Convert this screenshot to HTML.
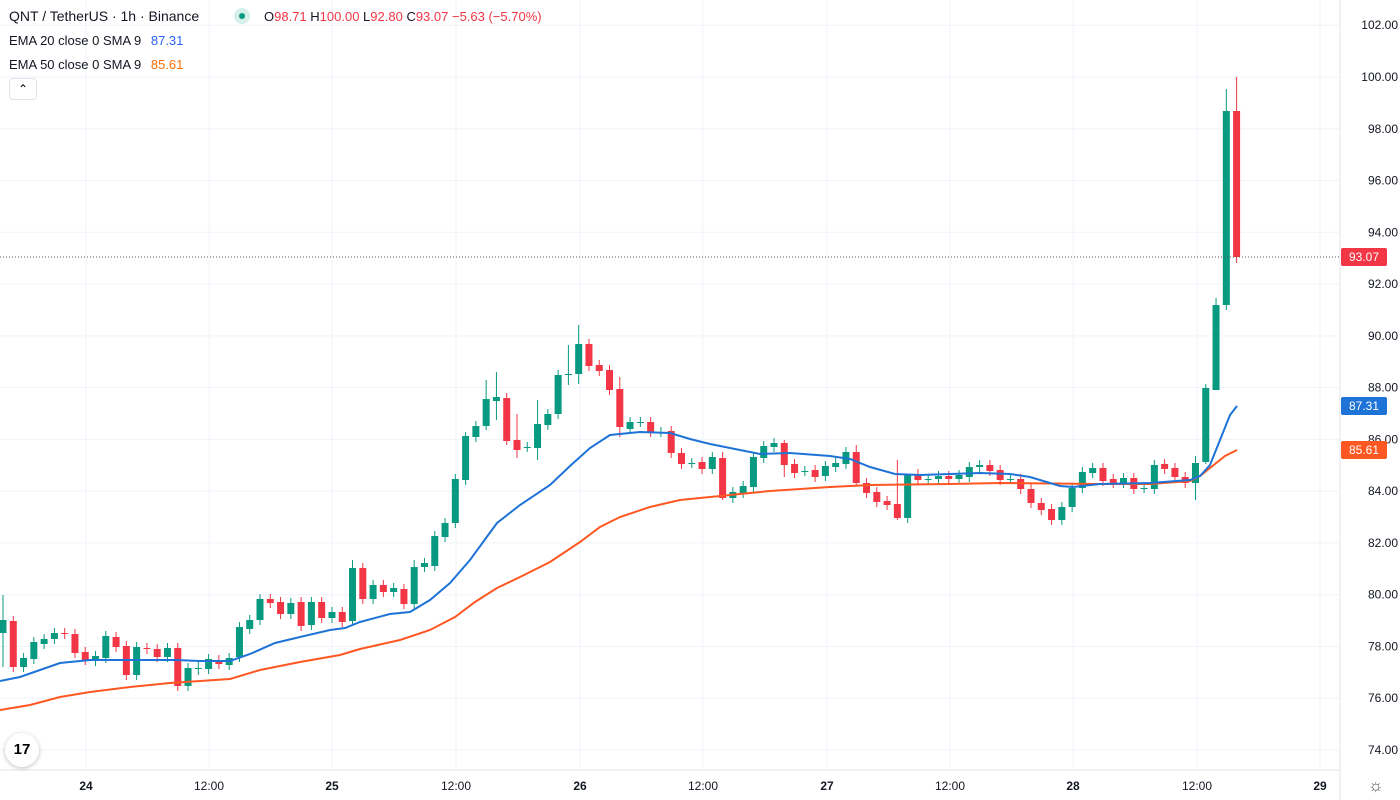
<!DOCTYPE html>
<html><head><meta charset="utf-8"><style>
body{margin:0;background:#fff;font-family:"Liberation Sans",sans-serif;}
#c{position:absolute;left:0;top:0;width:1400px;height:800px;overflow:hidden}
.t{position:absolute;font-size:13px;color:#131722;white-space:nowrap}
.r{color:#f23645}
</style></head><body><div id="c">
<svg id="s" width="1400" height="800" style="position:absolute;left:0;top:0"></svg>
<div class="t" style="left:9px;top:8px;font-size:14px">QNT / TetherUS · 1h · Binance</div>
<div style="position:absolute;left:234px;top:8px;width:16px;height:16px;border-radius:50%;background:#d6efe9"></div>
<div style="position:absolute;left:239px;top:13px;width:6px;height:6px;border-radius:50%;background:#089981"></div>
<div class="t" style="left:264px;top:9px">O<span class="r">98.71</span> H<span class="r">100.00</span> L<span class="r">92.80</span> C<span class="r">93.07 −5.63 (−5.70%)</span></div>
<div class="t" style="left:9px;top:33px">EMA 20 close 0 SMA 9 <span style="color:#2962ff;margin-left:6px">87.31</span></div>
<div class="t" style="left:9px;top:57px">EMA 50 close 0 SMA 9 <span style="color:#ff6d00;margin-left:6px">85.61</span></div>
<div style="position:absolute;left:9px;top:78px;width:26px;height:20px;border:1px solid #e0e3eb;border-radius:4px;font-size:12px;text-align:center;line-height:20px">⌃</div>
<div style="position:absolute;left:5px;top:733px;width:34px;height:34px;border-radius:50%;background:#fff;box-shadow:0 1px 4px rgba(0,0,0,.25);font-weight:bold;font-size:15px;text-align:center;line-height:34px">17</div>
<div class="t" style="left:1368px;top:776px;font-size:17px;color:#555">☼</div>
</div>
<script>
(function(){
var s=document.getElementById('s'),h='';
var Y=function(p){return 77+(100-p)*25.885;};
var prices=[102,100,98,96,94,92,90,88,86,84,82,80,78,76,74];
prices.forEach(function(p){var y=Y(p);h+='<line x1="0" x2="1340" y1="'+y+'" y2="'+y+'" stroke="#f0f3fa"/>';
h+='<text x="1398" y="'+(y+4)+'" font-size="12" fill="#131722" text-anchor="end" font-family="Liberation Sans">'+p.toFixed(2)+'</text>';});
var tx=[[86,'24'],[209,'12:00'],[332,'25'],[456,'12:00'],[580,'26'],[703,'12:00'],[827,'27'],[950,'12:00'],[1073,'28'],[1197,'12:00'],[1320,'29']];
tx.forEach(function(t){h+='<line x1="'+t[0]+'" x2="'+t[0]+'" y1="0" y2="770" stroke="#f0f3fa"/>';
h+='<text x="'+t[0]+'" y="790" font-size="12" fill="#131722" text-anchor="middle" font-family="Liberation Sans" font-weight="'+(t[1].length<3?'bold':'normal')+'">'+t[1]+'</text>';});
h+='<line x1="1340" x2="1340" y1="0" y2="800" stroke="#e0e3eb"/><line x1="0" x2="1340" y1="770" y2="770" stroke="#e0e3eb"/>';
var C=[[633,620],[621,667],[667,658],[659,642],[644,639],[639,633],[633,634],[634,653],[652,660],[661,656],[658,636],[637,647],[646,675],[675,647],[648,649],[649,657],[657,648],[648,686],[686,668],[668,668],[669,659],[660,664],[665,658],[657,627],[629,620],[620,599],[599,603],[602,614],[614,603],[602,626],[625,602],[602,618],[618,612],[612,622],[621,568],[568,599],[599,585],[585,592],[592,588],[589,604],[604,567],[567,563],[566,536],[537,523],[523,479],[480,436],[437,426],[426,399],[401,397],[398,441],[440,450],[447,447],[448,424],[425,414],[414,375],[375,374],[374,344],[344,366],[365,371],[370,390],[389,427],[429,422],[422,422],[422,432],[432,432],[431,453],[453,464],[463,463],[462,469],[469,457],[458,498],[498,492],[493,486],[487,457],[458,446],[447,443],[443,465],[464,473],[471,471],[470,477],[476,466],[467,463],[464,452],[452,483],[483,493],[492,502],[501,505],[504,518],[518,474],[474,480],[479,479],[479,476],[476,479],[479,475],[477,467],[467,465],[465,471],[470,480],[479,479],[479,489],[489,503],[503,510],[509,520],[520,507],[507,488],[488,472],[473,468],[468,481],[479,483],[483,478],[478,489],[488,488],[489,465],[464,469],[468,477],[477,483],[483,463],[462,388],[390,305],[305,111],[111,257]];
var HW={0:[595,667],19:[660,675],34:[560,625],40:[560,610],45:[432,485],47:[380,430],48:[372,420],49:[393,445],50:[414,458],52:[400,460],55:[345,385],56:[325,384],60:[377,437],70:[452,500],76:[440,477],83:[445,485],87:[460,520],88:[474,523],116:[456,500],117:[384,464],118:[298,313],119:[89,310],120:[77,263]};
for(var i=0;i<C.length;i++){var x=3+i*10.28,o=C[i][0],c=C[i][1],up=c<=o,col=up?'#089981':'#f23645';
var tp=Math.min(o,c),bt=Math.max(o,c);var hi=tp-5,lo=bt+5;if(HW[i]){hi=HW[i][0];lo=HW[i][1];}
h+='<line x1="'+x+'" x2="'+x+'" y1="'+hi+'" y2="'+lo+'" stroke="'+col+'" stroke-width="1"/>';
h+='<rect x="'+(x-3.5)+'" y="'+tp+'" width="7" height="'+Math.max(1,bt-tp)+'" fill="'+col+'"/>';}
var B=[[0,681],[20,677],[60,663],[90,660],[130,660],[175,660],[200,661],[230,661],[250,654],[275,643],[300,637],[330,630],[345,628],[360,622],[390,614],[410,612],[430,600],[450,583],[470,560],[497,523],[520,505],[550,485],[570,466],[590,448],[610,435],[640,432],[670,433],[690,439],[710,444],[740,450],[760,454],[790,453],[830,456],[850,459],[870,467],[895,474],[920,475],[980,473],[1010,474],[1030,477],[1060,486],[1073,487],[1100,484],[1150,483],[1190,480],[1200,476],[1210,465],[1220,440],[1230,415],[1237,406]];
var O=[[0,710],[30,705],[60,697],[90,692],[130,687],[170,683],[200,681],[230,679],[260,670],[300,662],[340,655],[360,649],[400,640],[430,630],[455,617],[475,602],[497,588],[520,577],[550,562],[580,542],[600,527],[620,517],[650,507],[680,500],[710,497],[740,494],[770,491],[800,489],[830,487],[870,485],[950,484],[1000,483],[1100,484],[1150,484],[1190,481],[1200,476],[1210,468],[1225,456],[1237,450]];
function pl(a,c){return '<polyline fill="none" stroke="'+c+'" stroke-width="2" points="'+a.map(function(p){return p.join(',')}).join(' ')+'"/>';}
h+=pl(O,'#ff5722')+pl(B,'#1e73d6');
h+='<line x1="0" x2="1340" y1="257" y2="257" stroke="#555" stroke-dasharray="1,2"/>';
function lab(y,c,t){return '<rect x="1341" y="'+(y-9)+'" width="46" height="18" rx="2" fill="'+c+'"/><text x="1364" y="'+(y+4)+'" font-size="12" fill="#fff" text-anchor="middle" font-family="Liberation Sans">'+t+'</text>';}
h+=lab(257,'#f23645','93.07')+lab(406,'#1e73d6','87.31')+lab(450,'#ff5722','85.61');
s.innerHTML=h;
})();
</script></body></html>
